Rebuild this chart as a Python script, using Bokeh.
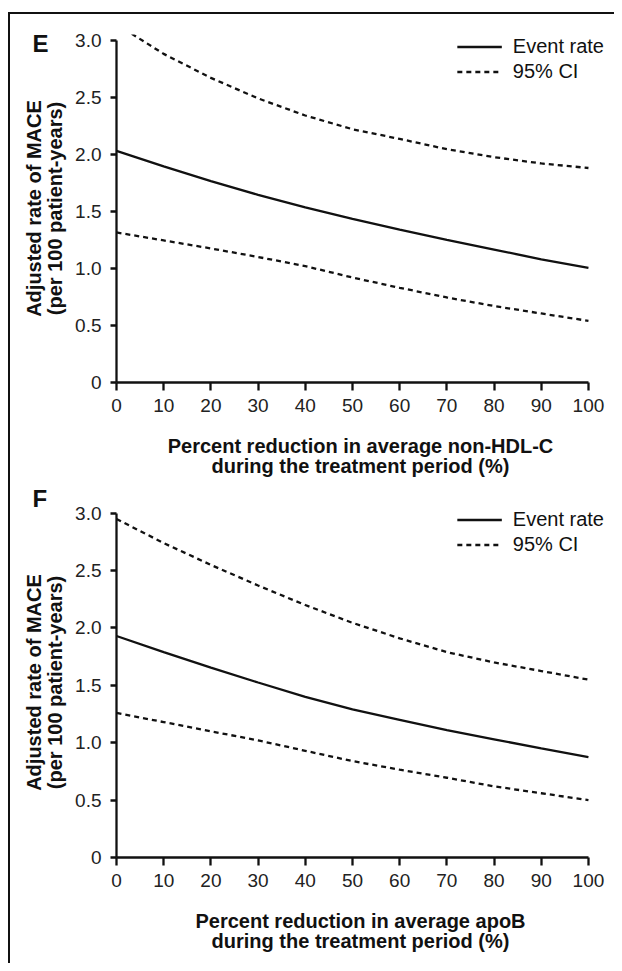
from bokeh.plotting import figure
from bokeh.layouts import column
from bokeh.models import Legend, LegendItem, Title, Range1d, FixedTicker, CustomJSTickFormatter
from bokeh.embed import file_html
from bokeh.resources import INLINE

# ---------------- data ----------------
x_pct = [0, 10, 20, 30, 40, 50, 60, 70, 80, 90, 100]

e_rate = [2.03, 1.895, 1.765, 1.645, 1.535, 1.435, 1.34, 1.25, 1.165, 1.08, 1.005]
e_upper = [3.14, 2.88, 2.67, 2.49, 2.34, 2.22, 2.135, 2.045, 1.975, 1.92, 1.88]
e_lower = [1.315, 1.245, 1.175, 1.10, 1.02, 0.92, 0.83, 0.745, 0.67, 0.605, 0.54]

f_rate = [1.93, 1.79, 1.655, 1.525, 1.40, 1.29, 1.20, 1.11, 1.03, 0.95, 0.875]
f_upper = [2.95, 2.74, 2.55, 2.37, 2.20, 2.045, 1.91, 1.79, 1.70, 1.625, 1.55]
f_lower = [1.26, 1.18, 1.10, 1.02, 0.93, 0.84, 0.765, 0.695, 0.62, 0.56, 0.50]

x_ticks = [0, 10, 20, 30, 40, 50, 60, 70, 80, 90, 100]
y_ticks = [0, 0.5, 1.0, 1.5, 2.0, 2.5, 3.0]

y_label = "Adjusted rate of MACE\n(per 100 patient-years)"
e_xlabel = "Percent reduction in average non-HDL-C\nduring the treatment period (%)"
f_xlabel = "Percent reduction in average apoB\nduring the treatment period (%)"
legend_labels = ["Event rate", "95% CI"]

FONT = "Liberation Sans"
INK = "#111111"


def make_panel(letter, rate, upper, lower, xlabel, height, top, bottom,
               letter_offset, letter_standoff):
    p = figure(width=604, height=height,
               x_range=Range1d(0, 103.4), y_range=Range1d(0, 3.05),
               output_backend="svg", toolbar_location=None,
               min_border_left=106, min_border_right=10,
               min_border_top=top, min_border_bottom=bottom,
               background_fill_color=None, border_fill_color=None,
               outline_line_color=None)
    p.grid.visible = False

    p.title = Title(text=letter, align="left", offset=letter_offset,
                    standoff=letter_standoff, text_font=FONT,
                    text_font_size="24px", text_font_style="bold",
                    text_color=INK)

    r_rate = p.line(x_pct, rate, line_color=INK, line_width=2.3)
    r_up = p.line(x_pct, upper, line_color=INK, line_width=2.3, line_dash="5 4")
    p.line(x_pct, lower, line_color=INK, line_width=2.3, line_dash="5 4")

    for ax in (p.xaxis[0], p.yaxis[0]):
        ax.axis_line_width = 2.3
        ax.axis_line_color = INK
        ax.major_tick_line_width = 2.3
        ax.major_tick_line_color = INK
        ax.minor_tick_line_color = None
        ax.major_tick_in = 0
        ax.major_label_text_font = FONT
        ax.major_label_text_font_size = "19px"
        ax.major_label_text_color = "#222222"
        ax.axis_label_text_font = FONT
        ax.axis_label_text_font_size = "20px"
        ax.axis_label_text_font_style = "bold"
        ax.axis_label_text_color = INK
        ax.axis_label_text_line_height = 0.95

    xa = p.xaxis[0]
    xa.ticker = FixedTicker(ticks=x_ticks)
    xa.bounds = (0, 100)
    xa.major_tick_out = 8
    xa.major_label_standoff = 8
    xa.axis_label = xlabel
    xa.axis_label_standoff = 20

    ya = p.yaxis[0]
    ya.ticker = FixedTicker(ticks=y_ticks)
    ya.bounds = (0, 3)
    ya.major_tick_out = 6
    ya.major_label_standoff = 9
    ya.formatter = CustomJSTickFormatter(code="return tick == 0 ? '0' : tick.toFixed(1);")
    ya.axis_label = y_label
    ya.axis_label_standoff = 6

    legend = Legend(items=[LegendItem(label=legend_labels[0], renderers=[r_rate]),
                           LegendItem(label=legend_labels[1], renderers=[r_up])],
                    location="top_right", margin=0, padding=0, spacing=0,
                    glyph_width=45, glyph_height=25, label_height=25,
                    label_standoff=11, label_text_font=FONT,
                    label_text_font_size="20px", label_text_color=INK,
                    background_fill_alpha=0, border_line_alpha=0)
    p.add_layout(legend)
    return p


pE = make_panel("E", e_rate, e_upper, e_lower, e_xlabel,
                height=466, top=20, bottom=97,
                letter_offset=-84, letter_standoff=-44)
pF = make_panel("F", f_rate, f_upper, f_lower, f_xlabel,
                height=483, top=27, bottom=106,
                letter_offset=-84, letter_standoff=-8)

layout = column(pE, pF, margin=(12, 0, 0, 8),
                styles={"border-left": "2px solid #111111",
                        "border-top": "2px solid #111111"})

open("out.html", "w").write(file_html(layout, INLINE))
